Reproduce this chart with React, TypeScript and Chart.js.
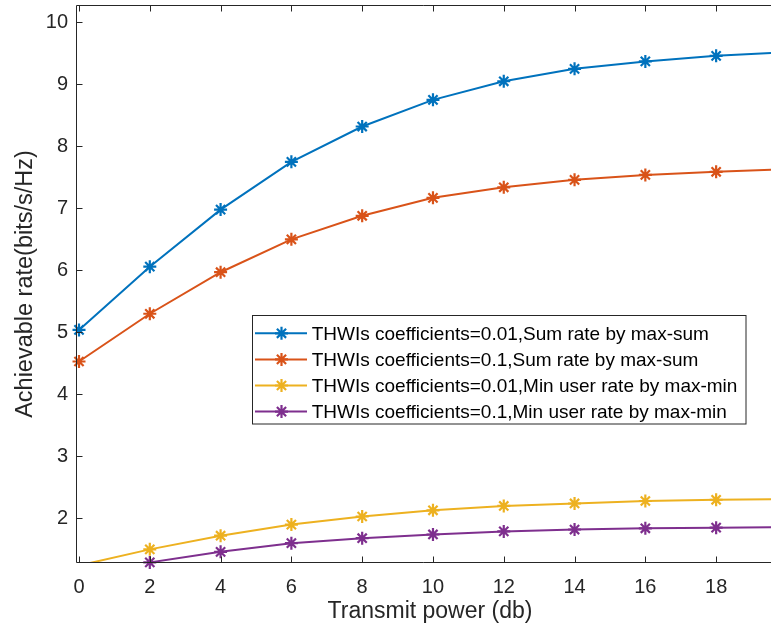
import React, { useEffect, useRef } from 'react';
import { Chart, registerables } from 'chart.js';

Chart.register(...registerables);

const X_VALUES = [0, 2, 4, 6, 8, 10, 12, 14, 16, 18, 20];
const SUM_RATE_001 = [5.04, 6.06, 6.98, 7.75, 8.32, 8.75, 9.05, 9.25, 9.37, 9.46, 9.52];
const SUM_RATE_01 = [4.53, 5.3, 5.97, 6.5, 6.88, 7.17, 7.34, 7.46, 7.54, 7.59, 7.63];
const MIN_RATE_001 = [1.24, 1.5, 1.72, 1.9, 2.03, 2.13, 2.2, 2.24, 2.28, 2.3, 2.31];
const MIN_RATE_01 = [1.05, 1.29, 1.46, 1.6, 1.68, 1.74, 1.79, 1.82, 1.84, 1.85, 1.86];
const X_TICKS = [0, 2, 4, 6, 8, 10, 12, 14, 16, 18];
const Y_TICKS = [2, 3, 4, 5, 6, 7, 8, 9, 10];
const SERIES_LABELS = [
  'THWIs coefficients=0.01,Sum rate by max-sum',
  'THWIs coefficients=0.1,Sum rate by max-sum',
  'THWIs coefficients=0.01,Min user rate by max-min',
  'THWIs coefficients=0.1,Min user rate by max-min',
];
const SERIES_COLORS = ['#0072BD', '#D95319', '#EDB120', '#7E2F8E'];
const X_TITLE = 'Transmit power (db)';
const Y_TITLE = 'Achievable rate(bits/s/Hz)';

const X_MIN = -0.085;
const X_MAX = 19.55;
const Y_MIN = 1.28;
const Y_MAX = 10.28;

const FONT = '"Liberation Sans", Arial, Helvetica, sans-serif';
const AXIS_COLOR = '#262626';
const W = 771;
const H = 633;

function drawStar(ctx: CanvasRenderingContext2D, x: number, y: number, r: number) {
  ctx.beginPath();
  for (let k = 0; k < 4; k++) {
    const ang = (k * Math.PI) / 4;
    const dx = Math.cos(ang) * r;
    const dy = Math.sin(ang) * r;
    ctx.moveTo(x - dx, y - dy);
    ctx.lineTo(x + dx, y + dy);
  }
  ctx.stroke();
}

const matlabPlugin = {
  id: 'matlabDecor',
  afterDraw(chart: any) {
    const { ctx, chartArea: a, scales } = chart;
    const xs = scales.x;
    const ys = scales.y;
    ctx.save();
    const L = Math.round(a.left) + 0.5;
    const B = Math.round(a.bottom) - 0.5;
    const T = Math.round(a.top) + 0.5;
    const R = a.right;
    ctx.strokeStyle = AXIS_COLOR;
    ctx.lineWidth = 1;
    ctx.beginPath();
    ctx.moveTo(R, T);
    ctx.lineTo(L, T);
    ctx.lineTo(L, B);
    ctx.lineTo(R, B);
    ctx.stroke();
    ctx.beginPath();
    xs.ticks.forEach((t: any) => {
      const px = Math.round(xs.getPixelForValue(t.value)) + 0.5;
      ctx.moveTo(px, B);
      ctx.lineTo(px, B - 6);
      ctx.moveTo(px, T);
      ctx.lineTo(px, T + 6);
    });
    ys.ticks.forEach((t: any) => {
      const py = Math.round(ys.getPixelForValue(t.value)) + 0.5;
      ctx.moveTo(L, py);
      ctx.lineTo(L + 6, py);
    });
    ctx.stroke();

    // x title (MATLAB centres it on the full, uncropped axes)
    ctx.fillStyle = AXIS_COLOR;
    ctx.font = `23px ${FONT}`;
    ctx.textAlign = 'center';
    ctx.textBaseline = 'alphabetic';
    ctx.fillText(X_TITLE, (a.left + a.right) / 2 + 6.5, 617.5);

    // legend
    const lx = 252.5, ly = 315.5, lw = 493.5, lh = 108.5;
    ctx.fillStyle = '#ffffff';
    ctx.fillRect(lx, ly, lw, lh);
    ctx.strokeStyle = AXIS_COLOR;
    ctx.lineWidth = 1;
    ctx.strokeRect(lx, ly, lw, lh);
    ctx.font = `19px ${FONT}`;
    ctx.textAlign = 'left';
    ctx.textBaseline = 'middle';
    SERIES_LABELS.forEach((label, i) => {
      const ry = 333.3 + i * 26.1;
      ctx.strokeStyle = SERIES_COLORS[i];
      ctx.lineWidth = 2;
      ctx.beginPath();
      ctx.moveTo(255, ry);
      ctx.lineTo(307, ry);
      ctx.stroke();
      ctx.lineWidth = 2.2;
      drawStar(ctx, 281.5, ry, 6.5);
      ctx.fillStyle = '#000000';
      ctx.fillText(label, 311.7, ry + 1);
    });
    ctx.restore();
  },
};

export default function App() {
  const ref = useRef<HTMLCanvasElement>(null);
  useEffect(() => {
    document.body.style.margin = '0';
    const canvas = ref.current;
    if (!canvas) return;
    const series = [SUM_RATE_001, SUM_RATE_01, MIN_RATE_001, MIN_RATE_01];
    const datasets: any[] = [];
    series.forEach((s, i) => {
      const data = X_VALUES.map((x, k) => ({ x, y: s[k] }));
      datasets.push({
        label: SERIES_LABELS[i],
        data,
        borderColor: SERIES_COLORS[i],
        backgroundColor: SERIES_COLORS[i],
        borderWidth: 2,
        pointRadius: 0,
        tension: 0,
        fill: false,
        clip: 0,
      });
      datasets.push({
        label: SERIES_LABELS[i] + ' markers',
        data,
        showLine: false,
        borderColor: SERIES_COLORS[i],
        backgroundColor: SERIES_COLORS[i],
        pointStyle: 'star',
        pointRadius: (c: any) => (c.raw && c.raw.y < Y_MIN ? 0 : 6.5),
        pointBorderWidth: 2.2,
        pointBorderColor: SERIES_COLORS[i],
        clip: false,
      });
    });
    const chart = new Chart(canvas, {
      type: 'line',
      data: { datasets },
      options: {
        animation: false,
        responsive: false,
        devicePixelRatio: 1,
        events: [],
        layout: { autoPadding: false, padding: { top: 5, right: 0, bottom: 0, left: 0 } },
        plugins: { legend: { display: false }, tooltip: { enabled: false } },
        scales: {
          x: {
            type: 'linear',
            min: X_MIN,
            max: X_MAX,
            grid: { display: false, drawTicks: false },
            border: { display: false },
            afterBuildTicks: (s: any) => {
              s.ticks = X_TICKS.map((v) => ({ value: v }));
            },
            ticks: {
              autoSkip: false,
              maxRotation: 0,
              padding: 12,
              color: AXIS_COLOR,
              font: { family: FONT, size: 20 },
            },
            afterFit: (s: any) => {
              s.height = 70;
              s.paddingLeft = 0;
              s.paddingRight = 0;
            },
          },
          y: {
            type: 'linear',
            min: Y_MIN,
            max: Y_MAX,
            grid: { display: false, drawTicks: false },
            border: { display: false },
            afterBuildTicks: (s: any) => {
              s.ticks = Y_TICKS.map((v) => ({ value: v }));
            },
            ticks: {
              autoSkip: false,
              padding: 8,
              color: AXIS_COLOR,
              font: { family: FONT, size: 20 },
            },
            title: {
              display: true,
              text: Y_TITLE,
              color: AXIS_COLOR,
              font: { family: FONT, size: 23.5 },
              padding: { top: 11, bottom: 0 },
            },
            afterFit: (s: any) => {
              s.width = 76;
              s.paddingTop = 0;
              s.paddingBottom = 0;
            },
          },
        },
      },
      plugins: [matlabPlugin],
    });
    return () => chart.destroy();
  }, []);
  return (
    <div style={{ position: 'absolute', left: 0, top: 0, width: W, height: H, background: '#fff' }}>
      <canvas ref={ref} width={W} height={H} style={{ display: 'block', width: W, height: H }} />
    </div>
  );
}
